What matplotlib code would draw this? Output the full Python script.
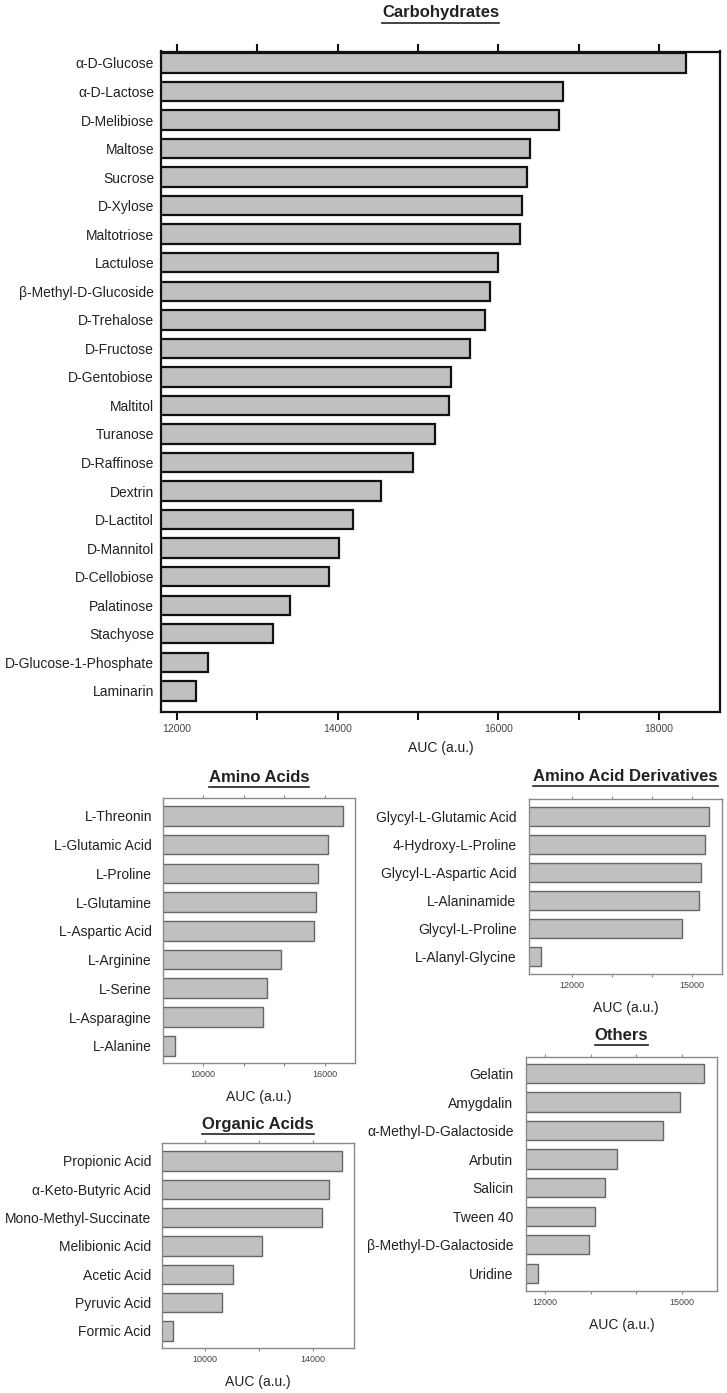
import matplotlib
matplotlib.use('Agg')
import matplotlib.pyplot as plt
from matplotlib.lines import Line2D
import numpy as np

plt.rcParams['font.family'] = ['Liberation Sans', 'DejaVu Sans']

# ---------------- data ----------------
carb_labels = ['α-D-Glucose', 'α-D-Lactose', 'D-Melibiose', 'Maltose', 'Sucrose', 'D-Xylose',
               'Maltotriose', 'Lactulose', 'β-Methyl-D-Glucoside', 'D-Trehalose', 'D-Fructose',
               'D-Gentobiose', 'Maltitol', 'Turanose', 'D-Raffinose', 'Dextrin', 'D-Lactitol',
               'D-Mannitol', 'D-Cellobiose', 'Palatinose', 'Stachyose', 'D-Glucose-1-Phosphate',
               'Laminarin']
carb_values = [18340, 16810, 16760, 16390, 16360, 16290, 16270, 15990, 15900, 15840, 15650,
               15410, 15380, 15210, 14940, 14540, 14190, 14020, 13890, 13400, 13200, 12390, 12240]

amino_labels = ['L-Threonin', 'L-Glutamic Acid', 'L-Proline', 'L-Glutamine', 'L-Aspartic Acid',
                'L-Arginine', 'L-Serine', 'L-Asparagine', 'L-Alanine']
amino_values = [16910, 16170, 15680, 15580, 15480, 13850, 13160, 12960, 8620]

deriv_labels = ['Glycyl-L-Glutamic Acid', '4-Hydroxy-L-Proline', 'Glycyl-L-Aspartic Acid',
                'L-Alaninamide', 'Glycyl-L-Proline', 'L-Alanyl-Glycine']
deriv_values = [15420, 15320, 15220, 15170, 14750, 11230]

others_labels = ['Gelatin', 'Amygdalin', 'α-Methyl-D-Galactoside', 'Arbutin', 'Salicin',
                 'Tween 40', 'β-Methyl-D-Galactoside', 'Uridine']
others_values = [15490, 14960, 14590, 13580, 13320, 13100, 12970, 11850]

organic_labels = ['Propionic Acid', 'α-Keto-Butyric Acid', 'Mono-Methyl-Succinate',
                  'Melibionic Acid', 'Acetic Acid', 'Pyruvic Acid', 'Formic Acid']
organic_values = [15070, 14590, 14330, 12110, 11040, 10630, 8810]

carb_ticks = [12000, 13000, 14000, 15000, 16000, 17000, 18000]
carb_ticklabels = ['12000', '', '14000', '', '16000', '', '18000']
amino_ticks = [10000, 12000, 14000, 16000]
amino_ticklabels = ['10000', '', '', '16000']
deriv_ticks = [12000, 13000, 14000, 15000]
deriv_ticklabels = ['12000', '', '', '15000']
others_ticks = [12000, 13000, 14000, 15000]
others_ticklabels = ['12000', '', '', '15000']
organic_ticks = [10000, 12000, 14000]
organic_ticklabels = ['10000', '', '14000']

# ---------------- layout ----------------
W, H = 727, 1393
fig = plt.figure(figsize=(W / 100, H / 100), dpi=100)
fig.patch.set_facecolor('white')


def px_axes(l, r, t, b):
    return fig.add_axes([l / W, 1 - b / H, (r - l) / W, (b - t) / H])


def panel(ax, labels, values, xlim, ticks, ticklabels, heavy, pads, ypad, title, title_y,
          xlabelpad=8):
    y = np.arange(len(labels))
    if heavy:
        ec, lw, spc, slw, tl, tw, tfs, tcol = '#111111', 1.6, '#111111', 1.6, 5.5, 1.5, 7.5, '#444444'
    else:
        ec, lw, spc, slw, tl, tw, tfs, tcol = '#666666', 1.0, '#8a8a8a', 1.0, 2.2, 0.8, 6.5, '#444444'
    ax.barh(y, values, height=0.68, color='#c0c0c0', edgecolor=ec, linewidth=lw, zorder=2)
    ax.set_xlim(*xlim)
    ax.set_ylim(len(labels) - 1 + pads[1], -pads[0])
    ax.set_yticks(y)
    ax.set_yticklabels(labels, fontsize=10, color='#222222')
    ax.tick_params(axis='y', length=0, pad=ypad)
    ax.set_xticks(ticks)
    ax.set_xticklabels(ticklabels, fontsize=tfs, color=tcol)
    ax.tick_params(axis='x', which='both', top=True, bottom=True, direction='out',
                   length=tl, width=tw, color=spc, pad=3)
    for s in ax.spines.values():
        s.set_color(spc)
        s.set_linewidth(slw)
    ax.set_xlabel('AUC (a.u.)', fontsize=10, color='#222222', labelpad=xlabelpad)
    pos = ax.get_position()
    cx = (pos.x0 + pos.x1) / 2
    t = fig.text(cx, 1 - title_y / H, title, ha='center', va='center', fontsize=12,
                 fontweight='bold', color='#222222')
    return t


ax1 = px_axes(161, 720, 51.5, 712)
t1 = panel(ax1, carb_labels, carb_values, (11800, 18760), carb_ticks, carb_ticklabels,
           True, (0.4, 0.74), 5, 'Carbohydrates', 13, xlabelpad=5)

ax2 = px_axes(163, 355, 798, 1063)
t2 = panel(ax2, amino_labels, amino_values, (8025, 17500), amino_ticks, amino_ticklabels,
           False, (0.62, 0.6), 8, 'Amino Acids', 777)

ax3 = px_axes(529, 722, 799, 974)
t3 = panel(ax3, deriv_labels, deriv_values, (10925, 15750), deriv_ticks, deriv_ticklabels,
           False, (0.62, 0.62), 9, 'Amino Acid Derivatives', 776)

ax4 = px_axes(526, 717, 1057, 1291)
t4 = panel(ax4, others_labels, others_values, (11580, 15770), others_ticks, others_ticklabels,
           False, (0.58, 0.62), 9, 'Others', 1035)

ax5 = px_axes(162, 354, 1143, 1348)
t5 = panel(ax5, organic_labels, organic_values, (8400, 15520), organic_ticks, organic_ticklabels,
           False, (0.63, 0.6), 8, 'Organic Acids', 1124)

fig.canvas.draw()
renderer = fig.canvas.get_renderer()
for t in (t1, t2, t3, t4, t5):
    bb = t.get_window_extent(renderer=renderer)
    yb = (bb.y0 - 2) / H
    fig.add_artist(Line2D([bb.x0 / W, bb.x1 / W], [yb, yb], transform=fig.transFigure,
                          color='#222222', linewidth=1.2))

fig.savefig('out.png', dpi=100, facecolor='white')
